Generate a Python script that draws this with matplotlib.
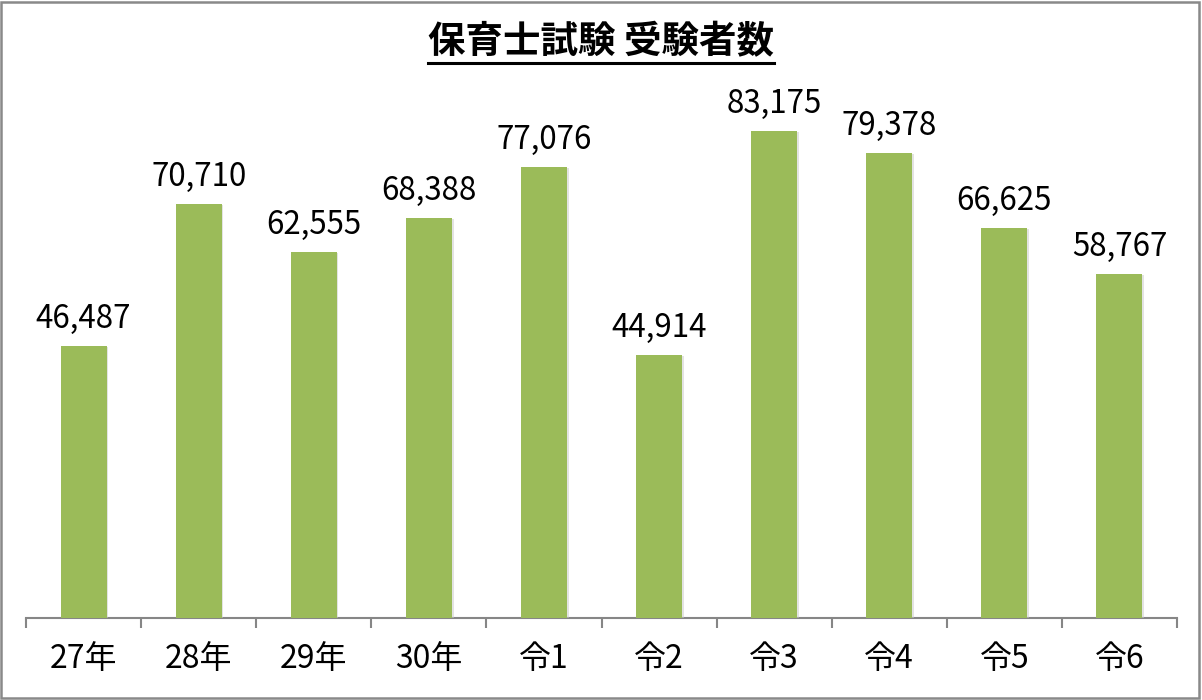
import matplotlib
matplotlib.use("Agg")
import matplotlib.pyplot as plt
from matplotlib.patches import Rectangle
import matplotlib.patheffects as pe
import numpy as np

plt.rcParams['font.family'] = ['Noto Sans CJK JP', 'DejaVu Sans']

title = "保育士試験 受験者数"
categories = ["27年", "28年", "29年", "30年", "令1", "令2", "令3", "令4", "令5", "令6"]
values = [46487, 70710, 62555, 68388, 77076, 44914, 83175, 79378, 66625, 58767]

W, H = 1202, 700
fig = plt.figure(figsize=(W / 100, H / 100), dpi=100)
ax = fig.add_axes([26 / W, 82 / H, (1177 - 26) / W, (618 - 91) / H])

x = np.arange(len(categories)) + 0.5
bars = ax.bar(x, values, width=0.4, color="#9BBB59", zorder=3,
              path_effects=[pe.SimplePatchShadow(offset=(1.2, -0.8), shadow_rgbFace="#c8c8c8", alpha=0.5),
                            pe.Normal()])

for xi, v in zip(x, values):
    ax.annotate(f"{v:,}", (xi, v), xytext=(0, 8), textcoords="offset points",
                ha="center", va="bottom", fontsize=22.5, color="black")

ax.set_xlim(0, len(categories))
ax.set_ylim(0, 90000)
ax.set_yticks([])
for s in ["top", "right", "left"]:
    ax.spines[s].set_visible(False)
ax.spines["bottom"].set_color("#868686")
ax.spines["bottom"].set_linewidth(1.5)
ax.set_xticks(np.arange(len(categories) + 1))
ax.set_xticklabels([])
ax.set_xticks(x, minor=True)
ax.set_xticklabels(categories, minor=True, fontsize=23)
ax.tick_params(axis="x", which="major", direction="out", length=7, width=1.5, color="#868686")
ax.tick_params(axis="x", which="minor", length=0, pad=18)

t = fig.text(0.5, 1 - 42 / H, title, ha="center", va="center", fontsize=27, fontweight="bold")
fig.canvas.draw()
bb = t.get_window_extent()
uy = bb.y0 - 1
fig.add_artist(plt.Line2D([bb.x0 / W, bb.x1 / W], [uy / H, uy / H], transform=fig.transFigure,
                          color="black", linewidth=2.2))

fig.add_artist(Rectangle((1 / W, 2 / H), (W - 4) / W, (H - 4) / H, transform=fig.transFigure,
                         fill=False, edgecolor="#898989", linewidth=1.8))

fig.savefig("out.png", dpi=100)
